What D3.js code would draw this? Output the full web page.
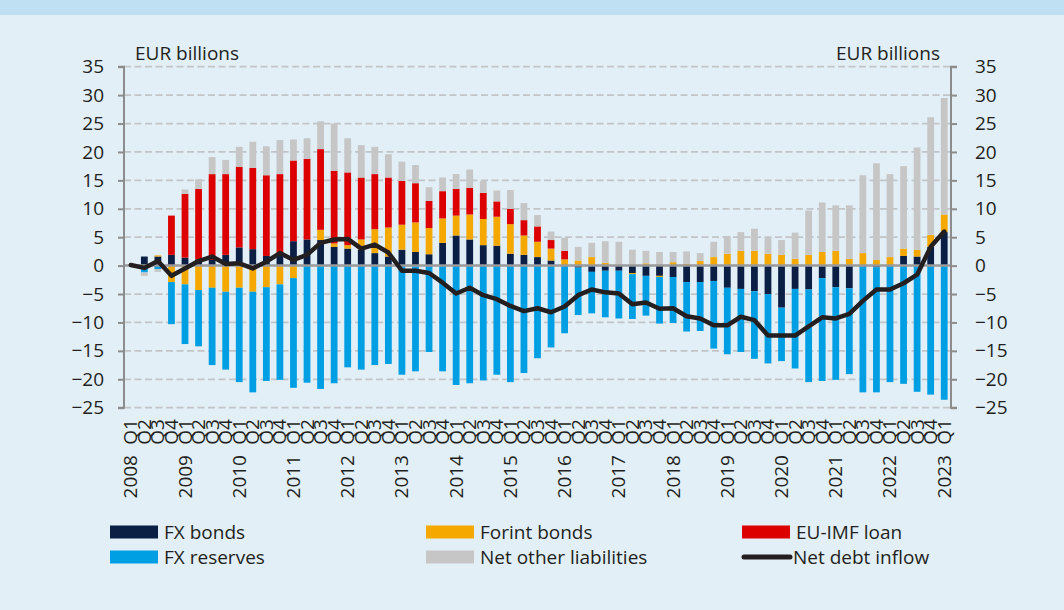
<!DOCTYPE html>
<html lang="en">
<head>
    <meta charset="UTF-8">
    <script src="https://d3js.org/d3.v7.min.js"></script>
    <title>Financing of external debt</title>
    <style>
        html, body {
            margin: 0;
            padding: 0;
            background-color: #e2eff7;
            font-family: "Open Sans", sans-serif;
        }
        svg text {
            fill: #231f20;
            font-size: 19px;
        }
    </style>
</head>
<body>
    <svg id="chart" width="1064" height="610"></svg>

    <script>
        // Quarters 2008 Q1 .. 2023 Q1
        const years = ["2008", "2009", "2010", "2011", "2012", "2013", "2014", "2015",
                       "2016", "2017", "2018", "2019", "2020", "2021", "2022", "2023"];
        const quarterNames = ["Q1", "Q2", "Q3", "Q4"];
        const periods = [];
        years.forEach(y => quarterNames.forEach(q => {
            if (periods.length < 61) periods.push({ year: y, q: q });
        }));

        // EUR billions
        const fxBonds = [0, 1.6, 1.6, 1.9, 1.4, 1.1, 1.0, 1.9, 3.2, 2.9, 1.7, 2.2, 4.3, 4.6, 4.5, 3.3,
            3.0, 2.8, 2.2, 1.6, 2.8, 2.4, 2.0, 4.0, 5.3, 4.6, 3.6, 3.5, 2.1, 1.9, 1.5, 0.9,
            0, -0.35, -1.1, -0.9, -0.9, -1.3, -1.8, -1.8, -2.0, -2.9, -2.9, -2.7, -3.9, -4.1, -4.5, -5.0,
            -7.4, -4.1, -4.2, -2.2, -3.8, -4.0, 0, -0.3, 0, 1.7, 1.6, 3.3, 5.9];
        const forintBonds = [0, 0, 0.2, -2.9, -3.3, -4.3, -3.9, -4.6, -3.9, -4.6, -3.8, -3.3, -2.2, 0, 1.8, 0.6,
            0.6, 1.8, 4.2, 5.1, 4.4, 5.2, 4.6, 4.3, 3.5, 4.4, 4.6, 5.1, 5.2, 3.4, 2.7, 2.1,
            1.1, 0.9, 1.5, 0.5, 0, -0.2, 0.4, -0.2, 0.6, 0.3, 0.8, 1.5, 2.1, 2.6, 2.6, 2.1,
            1.9, 1.2, 1.9, 2.4, 2.6, 1.2, 2.2, 1.0, 1.5, 1.3, 1.2, 2.1, 3.1];
        const euImfLoan = [0, 0, 0, 6.9, 11.2, 12.4, 15.1, 14.2, 14.2, 14.3, 14.2, 13.9, 14.2, 14.2, 14.2, 12.8,
            12.8, 10.9, 9.7, 8.8, 7.7, 6.9, 4.8, 4.8, 4.7, 4.7, 4.6, 2.7, 2.7, 2.7, 2.7, 1.5,
            1.5, 0, 0, 0, 0, 0, 0, 0, 0, 0, 0, 0, 0, 0, 0, 0,
            0, 0, 0, 0, 0, 0, 0, 0, 0, 0, 0, 0, 0];
        const fxReserves = [0, -1.2, -0.6, -7.4, -10.5, -9.9, -13.6, -13.7, -16.6, -17.7, -16.5, -16.8, -19.3, -20.6, -21.7, -20.7,
            -17.9, -18.3, -17.5, -17.3, -19.2, -18.6, -15.2, -18.6, -21.0, -20.7, -20.2, -19.2, -20.5, -18.9, -16.3, -14.4,
            -11.9, -8.35, -7.3, -8.2, -8.4, -7.9, -7.0, -8.2, -8.1, -8.7, -8.6, -11.9, -11.7, -11.1, -11.9, -12.2,
            -9.4, -14.0, -16.3, -18.1, -16.3, -15.1, -22.3, -22.0, -20.5, -20.8, -22.2, -22.7, -23.6];
        const netOther = [0, -0.6, -0.5, 0, 0.8, 1.7, 3.0, 2.5, 3.5, 4.6, 5.1, 6.0, 3.7, 3.6, 4.9, 8.3,
            6.0, 5.7, 4.8, 4.1, 3.4, 3.2, 2.4, 2.4, 2.6, 3.2, 2.1, 1.9, 3.3, 3.0, 2.0, 1.5,
            2.3, 2.4, 2.5, 3.8, 4.2, 2.8, 2.2, 2.4, 1.8, 2.2, 1.4, 2.7, 3.1, 3.3, 3.9, 2.8,
            2.6, 4.6, 7.8, 8.7, 8.0, 9.4, 13.7, 17.0, 14.6, 14.5, 18.0, 20.7, 20.5];
        const netDebtInflow = [0.1, -0.4, 0.8, -1.8, -0.5, 0.8, 1.6, 0.3, 0.4, -0.5, 0.7, 2.2, 1.0, 1.9, 4.0, 4.6,
            4.7, 3.0, 3.7, 2.3, -0.9, -0.9, -1.3, -3.0, -4.9, -3.9, -5.2, -5.9, -7.1, -8.0, -7.5, -8.2,
            -7.2, -5.2, -4.2, -4.7, -4.9, -6.8, -6.5, -7.6, -7.5, -8.9, -9.3, -10.5, -10.5, -9.0, -9.6, -12.3,
            -12.3, -12.3, -10.7, -9.1, -9.3, -8.5, -6.2, -4.2, -4.2, -3.1, -1.6, 3.3, 6.0];

        const yTicks = [-25, -20, -15, -10, -5, 0, 5, 10, 15, 20, 25, 30, 35];

        const seriesKeys = ["FX bonds", "Forint bonds", "EU-IMF loan", "FX reserves", "Net other liabilities"];
        const seriesColors = {
            "FX bonds": "#0b1f45",
            "Forint bonds": "#f5a800",
            "EU-IMF loan": "#dd0000",
            "FX reserves": "#009fe3",
            "Net other liabilities": "#c6c6c6"
        };

        const rows = periods.map((p, i) => ({
            idx: i,
            "FX bonds": fxBonds[i],
            "Forint bonds": forintBonds[i],
            "EU-IMF loan": euImfLoan[i],
            "FX reserves": fxReserves[i],
            "Net other liabilities": netOther[i]
        }));

        const svg = d3.select("#chart");
        const left = 124, right = 951;

        // top title strip
        svg.append("rect").attr("x", 0).attr("y", 0).attr("width", 1064).attr("height", 15)
            .attr("fill", "#bfe0f3");

        const x = d3.scaleBand()
            .domain(d3.range(periods.length))
            .range([left, right])
            .paddingInner(0.5)
            .paddingOuter(0.25);
        const y = d3.scaleLinear().domain([-25, 35]).range([407.7, 66.7]);
        const cx = i => x(i) + x.bandwidth() / 2;

        // gridlines
        svg.append("g").selectAll("line")
            .data(yTicks.filter(t => t !== 0))
            .enter().append("line")
            .attr("x1", left).attr("x2", right)
            .attr("y1", d => y(d)).attr("y2", d => y(d))
            .attr("stroke", "#c2c5c8")
            .attr("stroke-width", 1.8)
            .attr("stroke-dasharray", "7,3.5");

        // stacked bars
        const stacked = d3.stack().keys(seriesKeys).offset(d3.stackOffsetDiverging)(rows);
        svg.append("g").selectAll("g")
            .data(stacked)
            .enter().append("g")
            .attr("fill", d => seriesColors[d.key])
            .selectAll("rect")
            .data(d => d)
            .enter().append("rect")
            .attr("x", d => x(d.data.idx))
            .attr("width", x.bandwidth())
            .attr("y", d => y(Math.max(d[0], d[1])))
            .attr("height", d => Math.abs(y(d[0]) - y(d[1])));

        // zero line
        svg.append("line")
            .attr("x1", left).attr("x2", right)
            .attr("y1", y(0)).attr("y2", y(0))
            .attr("stroke", "#9a9a9a").attr("stroke-width", 2.5);

        // net debt inflow
        const line = d3.line().x((d, i) => cx(i)).y(d => y(d));
        svg.append("path")
            .datum(netDebtInflow)
            .attr("d", line)
            .attr("fill", "none")
            .attr("stroke", "#231f20")
            .attr("stroke-width", 4.5)
            .attr("stroke-linejoin", "round")
            .attr("stroke-linecap", "round");

        // axes
        const yLeft = d3.axisLeft(y).tickValues(yTicks).tickSize(6).tickPadding(14);
        const yRight = d3.axisRight(y).tickValues(yTicks).tickSize(6).tickPadding(18);
        const gl = svg.append("g").attr("transform", `translate(${left},0)`).call(yLeft);
        const gr = svg.append("g").attr("transform", `translate(${right},0)`).call(yRight);
        [gl, gr].forEach(g => {
            g.select(".domain").attr("stroke", "#8c8c8c").attr("stroke-width", 2);
            g.selectAll(".tick line").attr("stroke", "#8c8c8c").attr("stroke-width", 2);
            g.selectAll(".tick text").attr("font-family", "Open Sans").attr("font-size", 19)
                .attr("fill", "#231f20");
        });
        gl.selectAll(".domain").attr("d", `M-6,${y(35)}H0V${y(-25)}H-6`);
        gr.selectAll(".domain").attr("d", `M6,${y(35)}H0V${y(-25)}H6`);

        // unit labels
        svg.append("text").attr("x", 135).attr("y", 60).text("EUR billions");
        svg.append("text").attr("x", 940).attr("y", 60).attr("text-anchor", "end").text("EUR billions");

        // quarter labels
        svg.append("g").selectAll("text")
            .data(periods)
            .enter().append("text")
            .attr("transform", (d, i) => `translate(${cx(i) + 6.5},419) rotate(-90)`)
            .attr("text-anchor", "end")
            .text(d => d.q);

        // year labels
        svg.append("g").selectAll("text")
            .data(periods.map((d, i) => ({ ...d, i })).filter(d => d.q === "Q1"))
            .enter().append("text")
            .attr("transform", d => `translate(${cx(d.i) + 6.5},455) rotate(-90)`)
            .attr("text-anchor", "end")
            .text(d => d.year);

        // legend
        const legendItems = [
            { name: "FX bonds", col: 0, row: 0 },
            { name: "Forint bonds", col: 1, row: 0 },
            { name: "EU-IMF loan", col: 2, row: 0 },
            { name: "FX reserves", col: 0, row: 1 },
            { name: "Net other liabilities", col: 1, row: 1 },
            { name: "Net debt inflow", col: 2, row: 1, line: true }
        ];
        const colX = [110, 426, 742];
        const rowY = [532, 557];
        const lg = svg.append("g").selectAll("g")
            .data(legendItems)
            .enter().append("g")
            .attr("transform", d => `translate(${colX[d.col]},${rowY[d.row]})`);
        lg.filter(d => !d.line).append("rect")
            .attr("x", 0).attr("y", -6.5).attr("width", 48).attr("height", 13)
            .attr("fill", d => seriesColors[d.name]);
        lg.filter(d => d.line).append("line")
            .attr("x1", 2).attr("x2", 48).attr("y1", 0).attr("y2", 0)
            .attr("stroke", "#231f20").attr("stroke-width", 5).attr("stroke-linecap", "round");
        lg.append("text")
            .attr("x", d => d.line ? 51 : 54)
            .attr("y", 0)
            .attr("dy", "0.35em")
            .text(d => d.name);
    </script>
</body>
</html>
